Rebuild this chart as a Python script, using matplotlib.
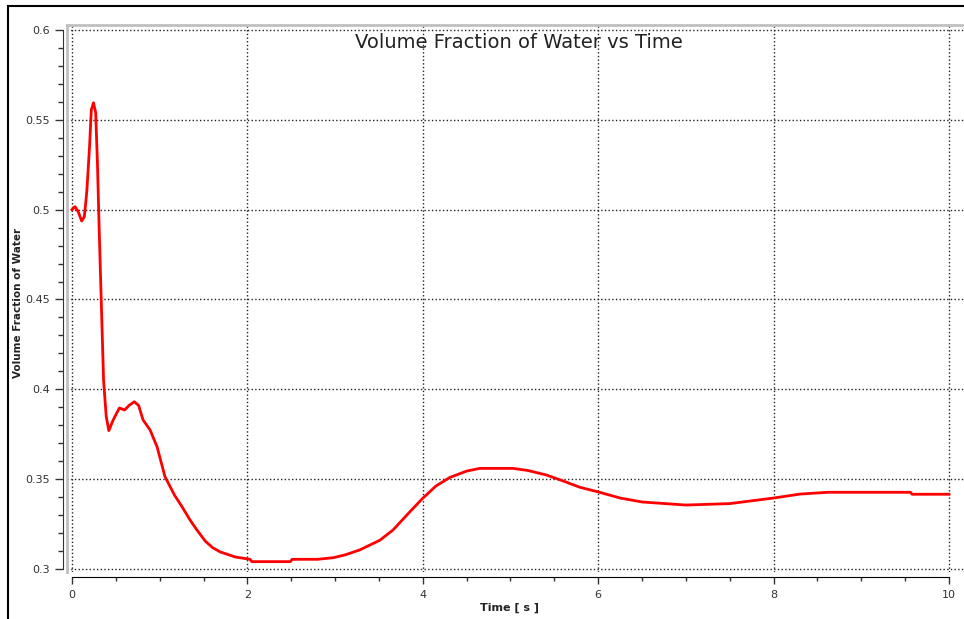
import matplotlib.pyplot as plt
from matplotlib.patches import Rectangle
from matplotlib.ticker import MultipleLocator

plt.rcParams['font.family'] = 'DejaVu Sans'
plt.rcParams['savefig.dpi'] = 100

# dados
tempo = [0, 0.034, 0.07, 0.11, 0.14, 0.16, 0.17, 0.20, 0.22, 0.245, 0.27, 0.29,
         0.31, 0.32, 0.36, 0.39, 0.42, 0.47, 0.54, 0.60, 0.65, 0.71, 0.76, 0.81,
         0.89, 0.97, 1.06, 1.17, 1.25, 1.35, 1.42, 1.52, 1.60, 1.69, 1.86, 2.03,
         2.05, 2.49, 2.51, 2.80, 2.98, 3.11, 3.28, 3.51, 3.66, 3.85, 4.0, 4.15,
         4.31, 4.5, 4.65, 5.03, 5.2, 5.41, 5.6, 5.79, 6.0, 6.25, 6.5, 7.0, 7.5,
         8.0, 8.3, 8.62, 9.56, 9.58, 10.0]
fracao = [0.500, 0.5017, 0.499, 0.4937, 0.496, 0.5054, 0.511, 0.535, 0.5555,
          0.5595, 0.554, 0.526, 0.489, 0.472, 0.405, 0.385, 0.377, 0.383,
          0.3896, 0.3885, 0.391, 0.3931, 0.391, 0.383, 0.3774, 0.368, 0.3514,
          0.341, 0.335, 0.327, 0.322, 0.3155, 0.312, 0.3095, 0.3067, 0.3054,
          0.3041, 0.3041, 0.3054, 0.3054, 0.3063, 0.3078, 0.3106, 0.316, 0.3217,
          0.3317, 0.3394, 0.3462, 0.351, 0.3545, 0.356, 0.356, 0.3548, 0.3523,
          0.349, 0.3455, 0.3429, 0.3395, 0.3373, 0.3356, 0.3364, 0.3395, 0.3417,
          0.3427, 0.3427, 0.3416, 0.3416]

W, H = 964, 619
PT = 0.72  # pixels -> pontos a 100 dpi
fig = plt.figure(figsize=(W / 100, H / 100))

# moldura externa
fig.patches.append(Rectangle((8 / W, -0.1), 1.2, 1 - 6 / H + 0.1,
                             transform=fig.transFigure, fill=False,
                             edgecolor='black', linewidth=1.5))

left, top, bottom = 67, 25, 572
ax = fig.add_axes([left / W, 1 - bottom / H, (W - left + 20) / W, (bottom - top) / H])

ax.plot(tempo, fracao, color='red', linewidth=2)

px_x = 87.7
ax.set_xlim(-5 / px_x, 10 + (W + 20 - 949) / px_x)
px_y = 1796.7
ax.set_ylim(0.3 - 3 / px_y, 0.6 + 5 / px_y)

ax.xaxis.set_major_locator(MultipleLocator(2))
ax.xaxis.set_minor_locator(MultipleLocator(0.5))
ax.yaxis.set_minor_locator(MultipleLocator(0.01))
ax.set_yticks([0.3, 0.35, 0.4, 0.45, 0.5, 0.55, 0.6])
ax.set_yticklabels(['0.3', '0.35', '0.4', '0.45', '0.5', '0.55', '0.6'])

ax.grid(True, which='major', linestyle=':', color='#222222', linewidth=1)

ax.spines['right'].set_visible(False)
ax.spines['left'].set_position(('outward', 4 * PT))
ax.spines['left'].set_bounds(0.3, 0.6)
ax.spines['bottom'].set_position(('outward', 5 * PT))
ax.spines['bottom'].set_bounds(0, 10)
ax.spines['left'].set_color('#333333')
ax.spines['bottom'].set_color('black')
ax.spines['top'].set_color('#c0c0c0')
ax.spines['top'].set_linewidth(2)

# borda cinza da area do grafico (esquerda)
ax.axvline(-5 / px_x, color='#c0c0c0', linewidth=2, clip_on=False)

ax.tick_params(axis='y', which='major', length=8 * PT, width=1, labelsize=8,
               colors='#333333', pad=5 * PT)
ax.tick_params(axis='y', which='minor', length=5 * PT, width=1, colors='#333333')
ax.tick_params(axis='x', which='major', length=7 * PT, width=1, labelsize=8,
               colors='#333333', pad=6 * PT)
ax.tick_params(axis='x', which='minor', length=4 * PT, width=1, colors='#333333')

# rotulos e titulo em coordenadas de pixel da figura
fig.text(510 / W, 1 - 608 / H, 'Time [ s ]', ha='center', va='center',
         fontsize=8, fontweight='bold', color='#222222')
fig.text(18 / W, 1 - 303 / H, 'Volume Fraction of Water', ha='center', va='center',
         rotation=90, fontsize=7.5, fontweight='bold', color='#222222')
fig.text(519 / W, 1 - 42 / H, 'Volume Fraction of Water vs Time',
         ha='center', va='center', fontsize=14, color='#222222')

fig.savefig('out.png', dpi=100)
